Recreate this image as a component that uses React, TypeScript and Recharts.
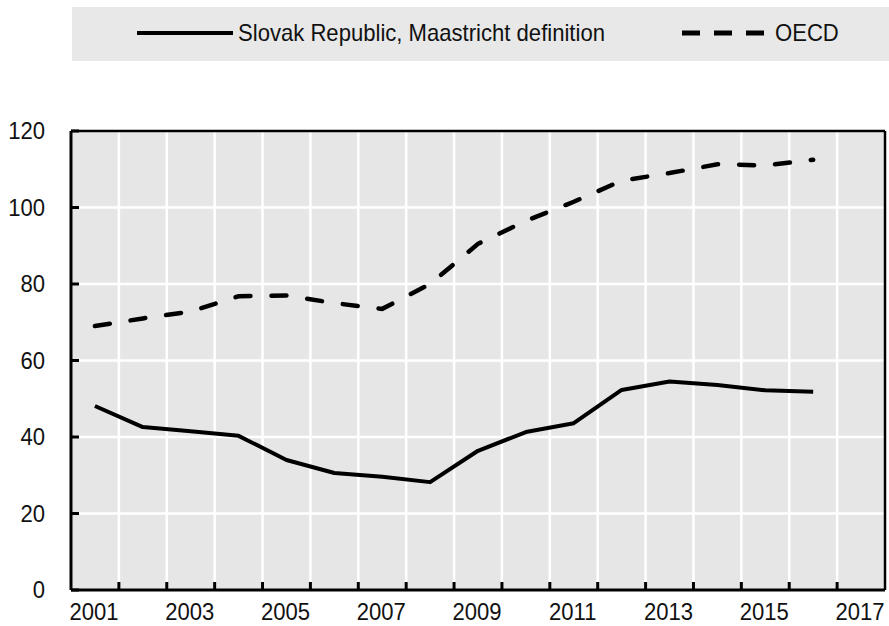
import { LineChart, Line, XAxis, YAxis, CartesianGrid, ReferenceLine } from 'recharts';

const YEARS = [2001, 2002, 2003, 2004, 2005, 2006, 2007, 2008, 2009, 2010, 2011, 2012, 2013, 2014, 2015, 2016];
const SLOVAK = [48.1, 42.6, 41.5, 40.3, 34.0, 30.6, 29.6, 28.2, 36.4, 41.3, 43.6, 52.3, 54.5, 53.6, 52.2, 51.8];
const OECD = [69.0, 71.0, 72.8, 76.8, 77.0, 75.0, 73.5, 80.0, 90.5, 96.5, 101.5, 107.0, 109.0, 111.3, 111.0, 112.5];
const X_LABELS = [2001, 2003, 2005, 2007, 2009, 2011, 2013, 2015, 2017];
const Y_TICKS = [0, 20, 40, 60, 80, 100, 120];

const SERIES_NAMES = ['Slovak Republic, Maastricht definition', 'OECD'];

const data = YEARS.map((year, i) => ({ year, slovak: SLOVAK[i], oecd: OECD[i] }));
// gridlines and tick marks sit between the years
const X_BOUNDS = YEARS.map((y) => y + 0.5);

// no Arial Narrow here, so squeeze Liberation Sans a bit
const FONT = '"Liberation Sans", Arial, sans-serif';
const NARROW = 0.92;
const W = 889;
const H = 626;

const YTick = ({ x, y, payload }: any) => (
  <g>
    <line x1={x} x2={x + 8} y1={y} y2={y} stroke="#000" strokeWidth={3} />
    <text
      transform={`translate(${x - 26},${y}) scale(${NARROW},1)`}
      textAnchor="end"
      dominantBaseline="central"
      fontSize={24}
      fontFamily={FONT}
      fill="#111"
    >
      {payload.value}
    </text>
  </g>
);

const XLabel = ({ x, y, payload }: any) => (
  <text
    transform={`translate(${x - 1},${y + 22}) scale(${NARROW},1)`}
    textAnchor="middle"
    dominantBaseline="central"
    fontSize={24}
    fontFamily={FONT}
    fill="#111"
  >
    {payload.value}
  </text>
);

const XMark = ({ x, y }: any) => <line x1={x} x2={x} y1={y} y2={y - 9} stroke="#000" strokeWidth={3} />;

const legendText = {
  position: 'absolute' as const,
  top: 12,
  fontSize: 24,
  lineHeight: '28px',
  color: '#111',
  whiteSpace: 'nowrap' as const,
  transform: `scaleX(${NARROW})`,
  transformOrigin: 'left center',
};

export default function App() {
  return (
    <div style={{ position: 'absolute', left: 0, top: 0, width: W, height: H, background: '#fff', fontFamily: FONT }}>
      <div style={{ position: 'absolute', left: 72, top: 7, width: 817, height: 54, background: '#e8e8e8' }}>
        <svg style={{ position: 'absolute', left: 65, top: 21 }} width={96} height={10}>
          <line x1={0} x2={96} y1={5} y2={5} stroke="#000" strokeWidth={4} />
        </svg>
        <span style={{ ...legendText, left: 166 }}>{SERIES_NAMES[0]}</span>
        <svg style={{ position: 'absolute', left: 608, top: 21 }} width={92} height={10}>
          <line x1={2} x2={92} y1={5} y2={5} stroke="#000" strokeWidth={5} strokeDasharray="18 14" />
        </svg>
        <span style={{ ...legendText, left: 703 }}>{SERIES_NAMES[1]}</span>
      </div>
      <LineChart width={W} height={H} data={data} margin={{ top: 131, right: 4, bottom: 34, left: 0 }}>
        <CartesianGrid xAxisId="grid" fill="#e6e6e6" stroke="#fff" strokeWidth={2.5} strokeOpacity={1} />
        <XAxis
          dataKey="year"
          type="number"
          domain={[2000.5, 2017.5]}
          ticks={X_LABELS}
          interval={0}
          height={1}
          tickSize={0}
          tickMargin={0}
          tickLine={false}
          axisLine={{ stroke: '#000', strokeWidth: 3 }}
          tick={<XLabel />}
        />
        <XAxis
          xAxisId="grid"
          dataKey="year"
          type="number"
          domain={[2000.5, 2017.5]}
          ticks={X_BOUNDS}
          interval={0}
          height={1}
          tickSize={0}
          tickMargin={0}
          axisLine={false}
          tickLine={false}
          tick={<XMark />}
        />
        <YAxis
          domain={[0, 120]}
          ticks={Y_TICKS}
          interval={0}
          width={71}
          tickSize={0}
          tickMargin={0}
          tickLine={false}
          axisLine={{ stroke: '#000', strokeWidth: 3 }}
          tick={<YTick />}
        />
        <ReferenceLine y={120} stroke="#000" strokeWidth={2.5} />
        <ReferenceLine x={2017.5} stroke="#000" strokeWidth={2.5} />
        <Line
          dataKey="oecd"
          name={SERIES_NAMES[1]}
          type="linear"
          stroke="#000"
          strokeWidth={4.5}
          strokeDasharray="15 21"
          strokeLinecap="round"
          dot={false}
          isAnimationActive={false}
        />
        <Line
          dataKey="slovak"
          name={SERIES_NAMES[0]}
          type="linear"
          stroke="#000"
          strokeWidth={4}
          strokeLinejoin="round"
          dot={false}
          isAnimationActive={false}
        />
      </LineChart>
    </div>
  );
}
